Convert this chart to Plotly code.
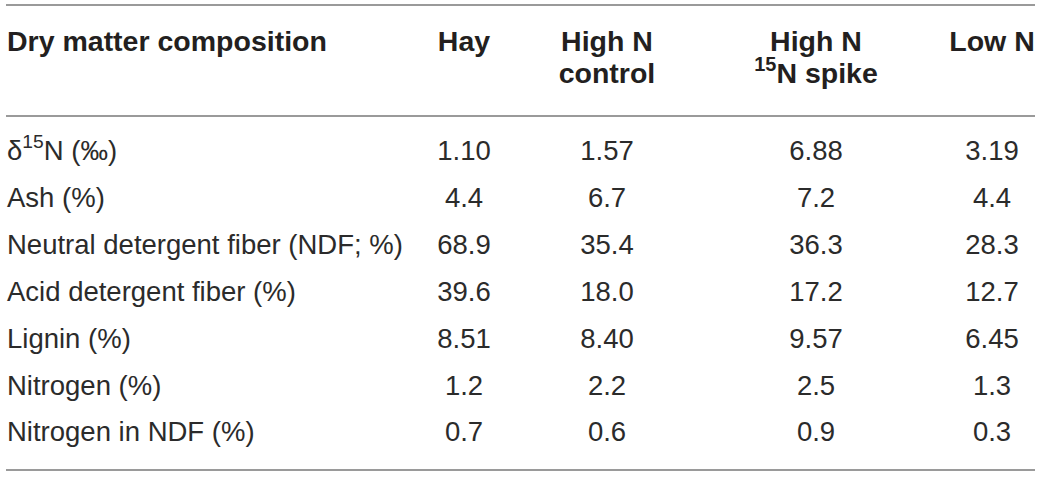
import plotly.graph_objects as go

# Table content
row_labels = [
    "δ<sup>15</sup>N (‰)",
    "Ash (%)",
    "Neutral detergent fiber (NDF; %)",
    "Acid detergent fiber (%)",
    "Lignin (%)",
    "Nitrogen (%)",
    "Nitrogen in NDF (%)",
]
header_line1 = ["Dry matter composition", "Hay", "High N", "High N", "Low N"]
header_line2 = ["", "", "control", "<sup>15</sup>N spike", ""]

hay = ["1.10", "4.4", "68.9", "39.6", "8.51", "1.2", "0.7"]
high_n_control = ["1.57", "6.7", "35.4", "18.0", "8.40", "2.2", "0.6"]
high_n_spike = ["6.88", "7.2", "36.3", "17.2", "9.57", "2.5", "0.9"]
low_n = ["3.19", "4.4", "28.3", "12.7", "6.45", "1.3", "0.3"]

W, H = 1042, 477
FONT = "Liberation Sans, Arial, sans-serif"
FS_BODY = 27.5
FS_HEAD = 28.5

# layout positions (pixels)
col_x = [464, 607, 816, 992]
row_y = [153, 200, 247, 294, 341, 388, 434]
label_x = 7
head_y1, head_y2 = 44, 76
rule_y = [5, 116, 470]

fig = go.Figure()


def add_text(xs, ys, texts, pos, size, color):
    fig.add_trace(go.Scatter(
        x=xs, y=ys, mode="text", text=texts, textposition=pos,
        textfont=dict(family=FONT, size=size, color=color),
        cliponaxis=False, hoverinfo="skip", showlegend=False,
    ))


# header
add_text([label_x], [head_y1], ["<b>" + header_line1[0] + "</b>"],
         "middle right", FS_HEAD, "#231f20")
add_text(col_x, [head_y1] * 4, ["<b>" + t + "</b>" for t in header_line1[1:]],
         "middle center", FS_HEAD, "#231f20")
second = [(x, t) for x, t in zip(col_x, header_line2[1:]) if t]
add_text([x for x, _ in second], [head_y2] * len(second),
         ["<b>" + t + "</b>" for _, t in second],
         "middle center", FS_HEAD, "#231f20")

# row labels
add_text([label_x] * len(row_labels), row_y, row_labels,
         "middle right", FS_BODY, "#2b2b2b")

# values
for cx, vals in zip(col_x, [hay, high_n_control, high_n_spike, low_n]):
    add_text([cx] * len(vals), row_y, vals, "middle center", FS_BODY, "#2b2b2b")

# horizontal rules
for ry in rule_y:
    fig.add_shape(type="line", x0=6, x1=1035, y0=ry, y1=ry,
                  line=dict(color="#9a9a9a", width=2))

fig.update_layout(
    width=W, height=H,
    margin=dict(l=0, r=0, t=0, b=0),
    paper_bgcolor="white", plot_bgcolor="white",
    xaxis=dict(range=[0, W], visible=False, fixedrange=True),
    yaxis=dict(range=[H, 0], visible=False, fixedrange=True),
)

# drop the page's default body margin so the figure sits at the top-left
fig.write_html("out.html", config={"displayModeBar": False},
               post_script="document.body.style.margin = '0';")
